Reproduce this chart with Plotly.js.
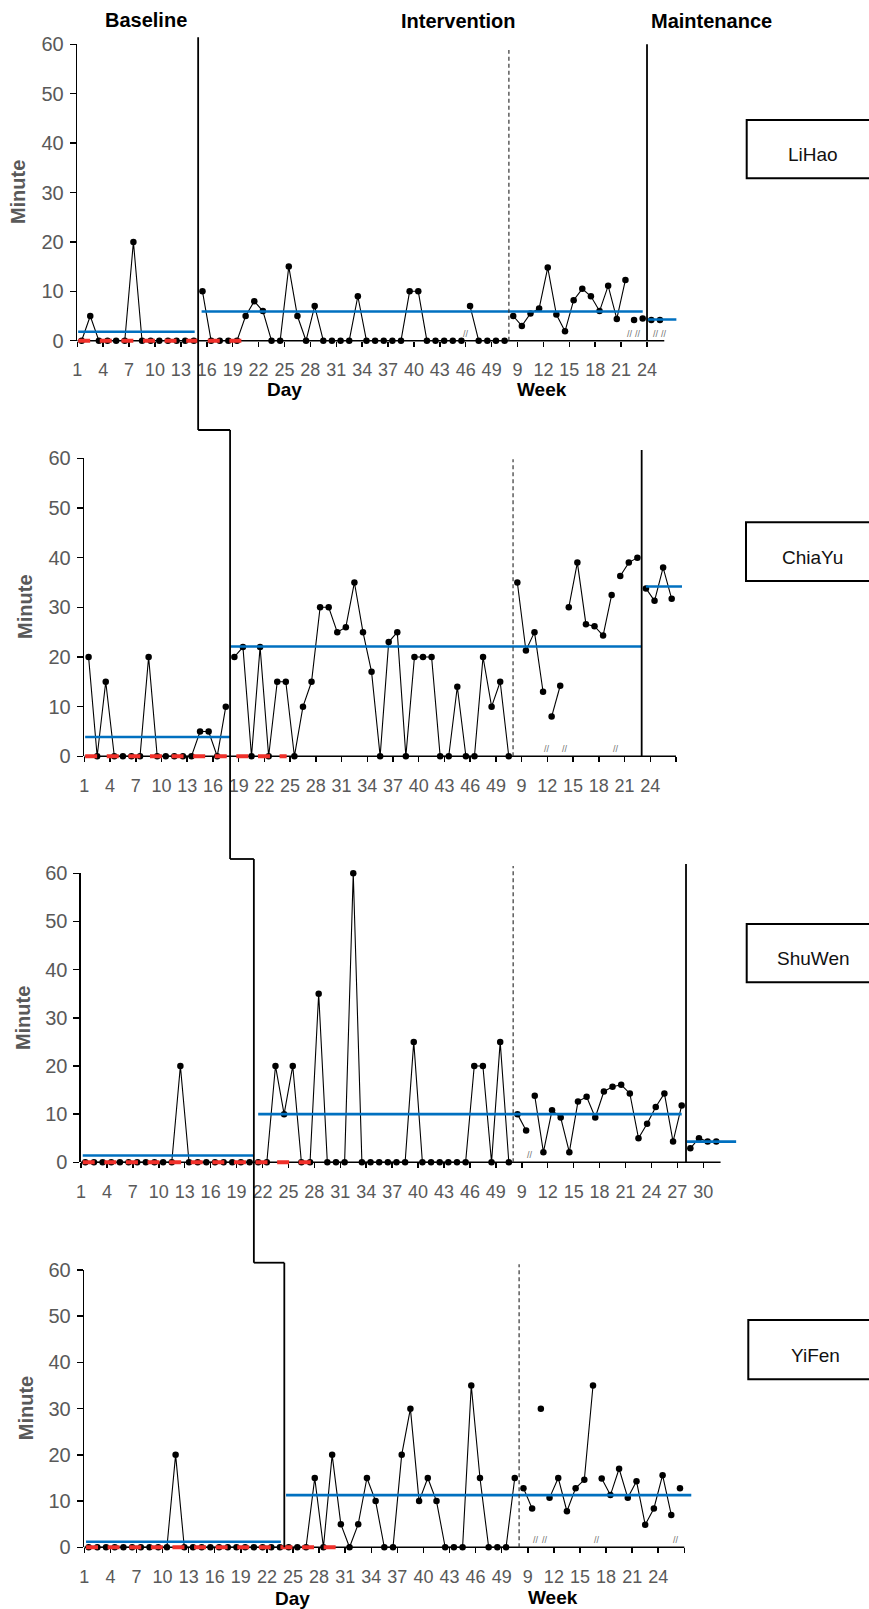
<!DOCTYPE html>
<html>
<head>
<meta charset="utf-8">
<script src="https://cdn.plot.ly/plotly-3.0.1.min.js"></script>
<style>html,body{margin:0;padding:0;background:#fff;}</style>
</head>
<body>
<div id="chart" style="width:869px;height:1609px;"></div>
<script>
// ---------------- DATA ----------------
const participants = ["LiHao", "ChiaYu", "ShuWen", "YiFen"];
const phaseTitles = ["Baseline", "Intervention", "Maintenance"];
const unitTitles = ["Day", "Week"];
const yAxisTitle = "Minute";
const yTickValues = [0, 10, 20, 30, 40, 50, 60];
const dayTickLabels = [1, 4, 7, 10, 13, 16, 19, 22, 25, 28, 31, 34, 37, 40, 43, 46, 49];
const weekTickLabels = [9, 12, 15, 18, 21, 24, 27, 30];
const lastDaySession = 50;   // sessions 1..50 are days
const firstWeekNumber = 8;   // session 51 is week 8

// LiHao
const liHaoBaseline = [0, 5, 0, 0, 0, 0, 20, 0, 0, 0, 0, 0, 0, 0];
const liHaoInterventionDays = [10, 0, 0, 0, 0, 5, 8, 6, 0, 0, 15, 5, 0, 7, 0, 0, 0, 0, 9, 0, 0, 0, 0, 0, 10, 10, 0, 0, 0, 0, 0, 7, 0, 0, 0, 0];
const liHaoInterventionWeeks = [5.0, 3.0, 5.5, 6.5, 14.8, 5.3, 1.9, 8.2, 10.5, 9.0, 6.0, 11.1, 4.4, 12.3, 4.2, 4.5];
const liHaoMaintenance = [4.2, 4.2];
const liHaoBreaks = [45, 64, 65, 67, 68];
const liHaoMeans = [1.8, 5.9, 4.3];
const liHaoMeanSpans = [[0.6, 14.1], [14.9, 66.0], [66.5, 69.9]];
const liHaoZeroTrend = [0.6, 19.9];

// ChiaYu
const chiaYuBaseline = [20, 0, 15, 0, 0, 0, 0, 20, 0, 0, 0, 0, 0, 5, 5, 0, 10];
const chiaYuInterventionDays = [20, 22, 0, 22, 0, 15, 15, 0, 10, 15, 30, 30, 25, 26, 35, 25, 17, 0, 23, 25, 0, 20, 20, 20, 0, 0, 14, 0, 0, 20, 10, 15, 0];
const chiaYuInterventionWeeks = [35, 21.3, 25, 13, 8, 14.2, 30, 39, 26.6, 26.2, 24.3, 32.5, 36.3, 39, 40];
const chiaYuMaintenance = [33.8, 31.3, 38, 31.7];
const chiaYuBreaks = [54, 56, 62];
const chiaYuMeans = [3.9, 22.1, 34.2];
const chiaYuMeanSpans = [[0.6, 17.5], [17.5, 65.5], [66.0, 70.2]];
const chiaYuZeroTrend = [0.6, 24.1];

// ShuWen
const shuWenBaseline = [0, 0, 0, 0, 0, 0, 0, 0, 0, 0, 0, 20, 0, 0, 0, 0, 0, 0, 0, 0];
const shuWenInterventionDays = [0, 0, 20, 10, 20, 0, 0, 35, 0, 0, 0, 60, 0, 0, 0, 0, 0, 0, 25, 0, 0, 0, 0, 0, 0, 20, 20, 0, 25, 0];
const shuWenInterventionWeeks = [10.0, 6.6, 13.8, 2.1, 10.8, 9.3, 2.1, 12.6, 13.6, 9.3, 14.7, 15.7, 16.1, 14.3, 5.0, 8.0, 11.5, 14.3, 4.3, 11.8];
const shuWenMaintenance = [2.9, 5.0, 4.3, 4.3];
const shuWenBreaks = [52];
const shuWenMeans = [1.4, 10.0, 4.3];
const shuWenMeanSpans = [[0.7, 20.5], [21.0, 70.0], [70.6, 76.3]];
const shuWenZeroTrend = [0.7, 27.3];

// YiFen
const yiFenBaseline = [0, 0, 0, 0, 0, 0, 0, 0, 0, 0, 20, 0, 0, 0, 0, 0, 0, 0, 0, 0, 0, 0, 0];
const yiFenInterventionDays = [0, 0, 0, 15, 0, 20, 5, 0, 5, 15, 10, 0, 0, 20, 30, 10, 15, 10, 0, 0, 0, 35, 15, 0, 0, 0, 15];
const yiFenInterventionWeeks = [12.8, 8.4, 30, 10.7, 15, 7.8, 12.8, 14.6, 35, 14.9, 11.3, 17.0, 10.7, 14.3, 4.9, 8.4, 15.6, 7.0, 12.8];
const yiFenMaintenance = [];
const yiFenBreaks = [52, 53, 59, 68];
const yiFenMeans = [1.2, 11.3];
const yiFenMeanSpans = [[0.7, 23.1], [23.7, 70.3]];
const yiFenZeroTrend = [0.7, 30.5];

const series = [
  {baseline: liHaoBaseline, days: liHaoInterventionDays, weeks: liHaoInterventionWeeks, maint: liHaoMaintenance, breaks: liHaoBreaks, means: liHaoMeans, spans: liHaoMeanSpans, trend: liHaoZeroTrend},
  {baseline: chiaYuBaseline, days: chiaYuInterventionDays, weeks: chiaYuInterventionWeeks, maint: chiaYuMaintenance, breaks: chiaYuBreaks, means: chiaYuMeans, spans: chiaYuMeanSpans, trend: chiaYuZeroTrend},
  {baseline: shuWenBaseline, days: shuWenInterventionDays, weeks: shuWenInterventionWeeks, maint: shuWenMaintenance, breaks: shuWenBreaks, means: shuWenMeans, spans: shuWenMeanSpans, trend: shuWenZeroTrend},
  {baseline: yiFenBaseline, days: yiFenInterventionDays, weeks: yiFenInterventionWeeks, maint: yiFenMaintenance, breaks: yiFenBreaks, means: yiFenMeans, spans: yiFenMeanSpans, trend: yiFenZeroTrend}
];

// ---------------- LAYOUT GEOMETRY (pixels) ----------------
const W = 869, H = 1609;
const FONT = '"Liberation Sans", Arial, Helvetica, sans-serif';
const geom = [
  {left: 77.3, step: 8.632, top: 44.3,  bottom: 340.7,  dashTop: 50,    maintTop: 44.3},
  {left: 84.3, step: 8.575, top: 458.3, bottom: 756.3,  dashTop: 459.3, maintTop: 450},
  {left: 81.0, step: 8.643, top: 873.3, bottom: 1162.3, dashTop: 866,   maintTop: 864},
  {left: 84.3, step: 8.696, top: 1270,  bottom: 1547.3, dashTop: 1264.3, maintTop: 1264}
];
const stepLevels = [37.3, 430, 859, 1262.7];
const nameBoxes = [[746.7, 120, 178.3], [746, 522.3, 581], [746.7, 924, 982.3], [748.3, 1320, 1379.3]];
const nameText = [[812.7, 154.5], [812.7, 557], [813.3, 958.3], [815, 1355]];
const px = v => v / W;
const py = v => 1 - v / H;

const traces = [];
const shapes = [];
const annotations = [];
const layout = {
  width: W, height: H, margin: {l: 0, r: 0, t: 0, b: 0}, autosize: false,
  paper_bgcolor: '#fff', plot_bgcolor: 'rgba(0,0,0,0)', showlegend: false,
  font: {family: FONT}, hovermode: false
};

function lineTrace(xa, ya, start, values, breaks) {
  const x = [], y = [];
  values.forEach((v, i) => {
    const p = start + i;
    x.push(p); y.push(v);
    if (breaks.includes(p) && i < values.length - 1) { x.push(null); y.push(null); }
  });
  return {type: 'scatter', mode: 'lines+markers', x: x, y: y, xaxis: xa, yaxis: ya,
    line: {color: '#000', width: 1.1}, marker: {color: '#000', size: 6.5},
    cliponaxis: false, connectgaps: false, hoverinfo: 'skip'};
}

const bounds = [];
series.forEach((s, k) => {
  const suf = k === 0 ? '' : String(k + 1);
  const xa = 'x' + suf, ya = 'y' + suf;
  const g = geom[k];
  const dayStart = s.baseline.length + 1;
  const weekStart = lastDaySession + 1;
  const maintStart = weekStart + s.weeks.length;
  const total = lastDaySession + s.weeks.length + s.maint.length;
  const axisEnd = total + 0.5;
  const spanMax = Math.max.apply(null, s.spans.map(d => d[1]));
  const rangeEnd = Math.max(axisEnd, spanMax) + 0.3;
  bounds.push(s.baseline.length + 0.5);

  // data traces
  traces.push(lineTrace(xa, ya, 1, s.baseline, s.breaks));
  traces.push(lineTrace(xa, ya, dayStart, s.days, s.breaks));
  traces.push(lineTrace(xa, ya, weekStart, s.weeks, s.breaks));
  if (s.maint.length) traces.push(lineTrace(xa, ya, maintStart, s.maint, s.breaks));

  // phase means
  s.means.forEach((m, j) => {
    traces.push({type: 'scatter', mode: 'lines', x: s.spans[j], y: [m, m], xaxis: xa, yaxis: ya,
      line: {color: '#0070C0', width: 2.6}, hoverinfo: 'skip'});
  });

  // ticks
  const tickPos = [], tickTxt = [];
  dayTickLabels.forEach(d => { tickPos.push(d); tickTxt.push(String(d)); });
  weekTickLabels.forEach(w => { tickPos.push(w + lastDaySession - firstWeekNumber + 1); tickTxt.push(String(w)); });
  const tv = [], tt = [];
  tickPos.forEach((p, i) => {
    if (p - 0.5 <= axisEnd + 1e-9) { tv.push(p - 0.5); tt.push(p <= total ? tickTxt[i] : ''); }
  });

  const xd0 = px(g.left), xd1 = px(g.left + (rangeEnd - 0.5) * g.step);
  layout['xaxis' + suf] = {
    domain: [xd0, xd1], range: [0.5, rangeEnd], anchor: ya, automargin: false,
    showline: false, showgrid: false, zeroline: false, fixedrange: true,
    tickmode: 'array', tickvals: tv, ticktext: tt,
    ticks: 'outside', ticklen: 5, tickwidth: 1.5, tickcolor: '#000',
    ticklabelshift: g.step / 2, ticklabelstandoff: 8,
    tickfont: {family: FONT, size: 18, color: '#595959'}
  };
  layout['yaxis' + suf] = {
    domain: [py(g.bottom), py(g.top)], range: [0, 60], anchor: xa, automargin: false,
    showline: true, linecolor: '#000', linewidth: 1.6,
    showgrid: false, zeroline: false, fixedrange: true,
    tickmode: 'array', tickvals: yTickValues,
    ticks: 'outside', ticklen: 6, tickwidth: 1.5, tickcolor: '#000',
    ticklabelstandoff: 2,
    tickfont: {family: FONT, size: 20, color: '#595959'}
  };

  // x axis line
  shapes.push({type: 'line', xref: xa, yref: ya + ' domain', x0: 0.5, x1: axisEnd, y0: 0, y1: 0,
    line: {color: '#000', width: 1.6}, layer: 'above'});
  // red dashed zero-level line
  shapes.push({type: 'line', xref: xa, yref: ya + ' domain', x0: s.trend[0], x1: s.trend[1], y0: 0, y1: 0,
    line: {color: '#F0302A', width: 4, dash: '12px,9.6px'}, layer: 'above'});
  // day / week separator
  shapes.push({type: 'line', xref: xa, yref: 'paper', x0: lastDaySession + 0.5, x1: lastDaySession + 0.5,
    y0: py(g.bottom), y1: py(g.dashTop), line: {color: '#333', width: 1.2, dash: '4px,3px'}});
  // maintenance phase line
  if (s.maint.length) {
    shapes.push({type: 'line', xref: xa, yref: 'paper', x0: maintStart - 0.5, x1: maintStart - 0.5,
      y0: py(g.bottom), y1: py(g.maintTop), line: {color: '#000', width: 1.8}});
  }
  // baseline/intervention step line (vertical part)
  const vb = k < 3 ? stepLevels[k + 1] : g.bottom;
  shapes.push({type: 'line', xref: xa, yref: 'paper', x0: bounds[k], x1: bounds[k],
    y0: py(vb), y1: py(stepLevels[k]), line: {color: '#000', width: 1.8}});

  // break marks
  s.breaks.forEach(b => {
    annotations.push({xref: xa, yref: ya + ' domain', x: b + 0.5, y: 0, text: '//', showarrow: false,
      font: {family: FONT, size: 9, color: '#6f6f6f'}, xanchor: 'center', yanchor: 'bottom'});
  });

  // y title
  annotations.push({xref: 'paper', yref: 'paper', x: px(g.left - 58.7), y: py((g.top + g.bottom) / 2),
    text: '<b>' + yAxisTitle + '</b>', textangle: -90, showarrow: false,
    font: {family: FONT, size: 20, color: '#595959'}, xanchor: 'center', yanchor: 'middle'});

  // name box
  const nb = nameBoxes[k];
  shapes.push({type: 'rect', xref: 'paper', yref: 'paper', x0: px(nb[0]), x1: 1.1, y0: py(nb[2]), y1: py(nb[1]),
    line: {color: '#000', width: 2}, fillcolor: 'rgba(0,0,0,0)'});
  annotations.push({xref: 'paper', yref: 'paper', x: px(nameText[k][0]), y: py(nameText[k][1]),
    text: participants[k], showarrow: false, font: {family: FONT, size: 19, color: '#111'},
    xanchor: 'center', yanchor: 'middle'});
});

// horizontal connectors of the step line (convert each panel's boundary to paper x)
function paperX(k, v) { return px(geom[k].left + (v - 0.5) * geom[k].step); }
for (let k = 0; k < 3; k++) {
  shapes.push({type: 'line', xref: 'paper', yref: 'paper', x0: paperX(k, bounds[k]), x1: paperX(k + 1, bounds[k + 1]),
    y0: py(stepLevels[k + 1]), y1: py(stepLevels[k + 1]), line: {color: '#000', width: 1.8}});
}

// phase titles
const phaseTitlePos = [[145.8, 20], [458.3, 21], [711.7, 21]];
phaseTitles.forEach((t, i) => {
  annotations.push({xref: 'paper', yref: 'paper', x: px(phaseTitlePos[i][0]), y: py(phaseTitlePos[i][1]),
    text: '<b>' + t + '</b>', showarrow: false, font: {family: FONT, size: 20, color: '#000'},
    xanchor: 'center', yanchor: 'middle'});
});
// Day / Week labels (under first and last panels)
const unitPos = [[[284, 390], [541.7, 390]], [[292.5, 1598], [552.5, 1597]]];
unitPos.forEach(pair => {
  pair.forEach((p, i) => {
    annotations.push({xref: 'paper', yref: 'paper', x: px(p[0]), y: py(p[1]),
      text: '<b>' + unitTitles[i] + '</b>', showarrow: false, font: {family: FONT, size: 19, color: '#000'},
      xanchor: 'center', yanchor: 'middle'});
  });
});

layout.shapes = shapes;
layout.annotations = annotations;
Plotly.newPlot('chart', traces, layout, {staticPlot: true, displayModeBar: false});
</script>
</body>
</html>
